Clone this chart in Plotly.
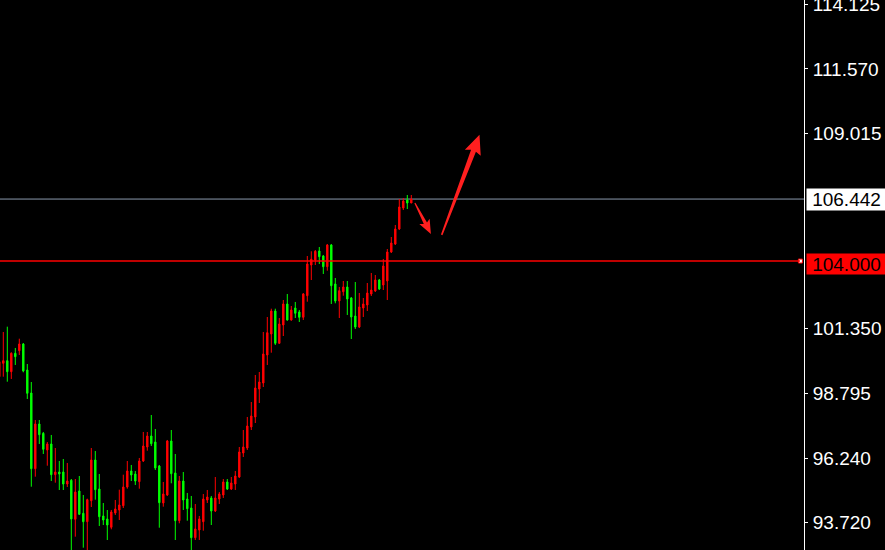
import plotly.graph_objects as go

# ---- candle data ----
OPEN = [99.444, 99.972, 100.074, 99.641, 100.366, 100.468, 100.732, 99.708, 98.802, 95.820,
        97.581, 97.214, 96.557, 96.793, 95.584, 95.690, 95.690, 95.217, 95.363, 93.827,
        94.942, 94.063, 93.732, 94.559, 96.163, 95.020, 93.957, 93.839, 93.512, 94.075,
        94.193, 94.362, 95.099, 95.729, 95.611, 95.308, 96.123, 96.675, 97.108, 96.872,
        95.926, 94.469, 94.784, 96.911, 95.651, 93.772, 95.335, 94.626, 94.272, 93.102,
        93.405, 93.732, 94.587, 94.666, 94.154, 94.626, 94.784, 95.296, 95.020, 95.217,
        95.493, 96.438, 96.635, 97.463, 97.857, 98.959, 99.196, 100.299, 101.126, 102.032,
        100.760, 101.481, 102.308, 101.678, 102.150, 101.993, 101.784, 102.635, 103.844, 104.041,
        104.396, 104.199, 103.777, 104.632, 103.096, 102.426, 102.792, 102.978, 102.544, 101.835,
        101.402, 102.150, 102.268, 102.702, 102.820, 103.253, 103.056, 103.214, 104.356, 104.671,
        105.262, 106.090, 106.405, 106.286]
HIGH = [100.181, 101.205, 101.414, 100.405, 100.575, 100.941, 100.771, 99.944, 99.235, 97.738,
        97.738, 97.266, 96.872, 97.148, 96.635, 96.123, 96.202, 96.045, 95.414, 95.414,
        95.532, 94.784, 94.638, 96.635, 96.517, 95.611, 94.469, 94.193, 94.193, 94.587,
        94.993, 95.584, 96.123, 95.966, 95.729, 96.242, 97.266, 97.266, 97.935, 97.384,
        95.966, 95.296, 96.951, 97.344, 96.399, 95.532, 95.690, 94.863, 94.745, 94.429,
        93.957, 94.823, 94.981, 94.745, 95.493, 94.902, 95.414, 95.414, 95.493, 95.729,
        96.675, 97.344, 97.857, 98.447, 99.511, 99.629, 101.205, 101.796, 102.123, 102.123,
        101.756, 102.465, 102.702, 102.229, 102.387, 102.072, 102.741, 104.199, 104.384, 104.435,
        104.553, 104.238, 104.671, 104.671, 103.332, 102.978, 103.214, 103.214, 102.583, 103.174,
        102.741, 102.544, 103.135, 103.529, 103.450, 103.293, 104.081, 104.474, 104.947, 105.420,
        106.444, 106.483, 106.601, 106.601]
LOW = [99.314, 99.444, 99.247, 99.354, 99.905, 100.299, 99.617, 98.566, 95.111, 95.505,
       96.793, 96.399, 95.938, 95.335, 95.269, 94.981, 94.981, 95.099, 92.420, 93.141,
       93.996, 92.708, 92.539, 94.311, 94.599, 93.563, 93.602, 93.011, 93.433, 93.996,
       93.799, 94.272, 95.032, 95.335, 95.178, 95.032, 96.084, 96.529, 96.714, 95.769,
       93.496, 94.323, 94.745, 95.245, 93.011, 93.669, 94.193, 93.772, 92.539, 93.011,
       93.011, 93.378, 94.469, 93.602, 94.114, 94.429, 94.666, 94.981, 94.981, 94.981,
       95.454, 96.281, 96.557, 97.344, 97.620, 98.408, 99.038, 99.905, 100.389, 100.693,
       100.732, 101.047, 101.650, 101.650, 101.756, 101.599, 101.678, 102.398, 103.253, 103.844,
       103.884, 103.490, 103.620, 102.308, 102.335, 101.756, 102.635, 101.875, 100.929, 101.323,
       101.362, 101.796, 102.032, 102.623, 102.781, 102.859, 102.859, 102.465, 104.317, 104.632,
       105.223, 106.011, 106.050, 106.286]
CLOSE = [100.035, 100.074, 99.641, 100.366, 100.232, 100.732, 99.669, 98.790, 95.820, 97.581,
         97.159, 96.584, 96.793, 95.584, 95.690, 95.611, 95.217, 95.335, 93.839, 94.902,
         94.024, 93.732, 94.599, 96.163, 94.993, 93.929, 93.799, 93.602, 94.114, 94.233,
         94.390, 95.099, 95.729, 95.572, 95.335, 96.123, 96.714, 97.108, 96.805, 95.848,
         94.481, 94.823, 96.911, 95.623, 93.772, 95.335, 94.587, 94.244, 93.102, 93.445,
         93.839, 94.626, 94.705, 94.154, 94.666, 94.823, 95.296, 95.020, 95.257, 95.532,
         96.478, 96.675, 97.502, 97.896, 98.999, 99.235, 100.338, 101.177, 102.032, 100.760,
         101.520, 102.308, 101.678, 102.072, 101.942, 101.784, 102.702, 103.884, 104.069, 104.384,
         104.171, 103.777, 104.632, 103.029, 102.426, 102.832, 102.978, 102.505, 101.796, 101.402,
         102.190, 102.308, 102.741, 102.859, 103.253, 102.899, 103.805, 104.356, 104.711, 105.262,
         106.129, 106.365, 106.286, 106.442]
BARS = list(range(len(OPEN)))

Y_TICKS = [114.125, 111.570, 109.015, 101.350, 98.795, 96.240, 93.720]
Y_TICK_TEXT = ["114.125", "111.570", "109.015", "101.350", "98.795", "96.240", "93.720"]
LAST_PRICE = 106.442
LEVEL = 104.000
LAST_TEXT = "106.442"
LEVEL_TEXT = "104.000"

# hand-drawn arrows: (x_tail, price_tail, x_tip, price_tip)
ARROW_DOWN = (103.9, 106.29, 107.9, 105.07)
ARROW_UP = (110.6, 105.03, 120.05, 108.97)

# ---- layout geometry ----
W, H = 885, 550
MR = 81
X_RANGE = [0.175, 201.175]
Y_RANGE = [92.617, 114.283]
SX = (W - MR) / (X_RANGE[1] - X_RANGE[0])
SY = H / (Y_RANGE[1] - Y_RANGE[0])
FONT = "Liberation Sans"
FSIZE = 19


def arrow_path(a, head_len, head_half, tail_half, neck_half):
    x0, y0, x1, y1 = a
    tx, ty = (x0 - X_RANGE[0]) * SX, (Y_RANGE[1] - y0) * SY
    px, py = (x1 - X_RANGE[0]) * SX, (Y_RANGE[1] - y1) * SY
    dx, dy = px - tx, py - ty
    L = (dx * dx + dy * dy) ** 0.5
    ux, uy = dx / L, dy / L
    nx, ny = -uy, ux
    bx, by = px - ux * head_len, py - uy * head_len
    pts = [
        (tx + nx * tail_half, ty + ny * tail_half),
        (bx + nx * neck_half, by + ny * neck_half),
        (bx + nx * head_half - ux * 2, by + ny * head_half - uy * 2),
        (px, py),
        (bx - nx * head_half - ux * 2, by - ny * head_half - uy * 2),
        (bx - nx * neck_half, by - ny * neck_half),
        (tx - nx * tail_half, ty - ny * tail_half),
    ]
    d = []
    for i, (qx, qy) in enumerate(pts):
        X = qx / SX + X_RANGE[0]
        Y = Y_RANGE[1] - qy / SY
        d.append(("M" if i == 0 else "L") + f"{X:.4f},{Y:.4f}")
    return " ".join(d) + " Z"


fig = go.Figure()
fig.add_trace(go.Candlestick(
    x=BARS, open=OPEN, high=HIGH, low=LOW, close=CLOSE,
    increasing=dict(line=dict(color="#ff0000", width=1), fillcolor="#ff0000"),
    decreasing=dict(line=dict(color="#00ff00", width=1), fillcolor="#00ff00"),
    whiskerwidth=0, hoverinfo="skip", showlegend=False,
))

# small marker at the end of the level line
fig.add_trace(go.Scatter(
    x=[X_RANGE[1] - 0.9], y=[LEVEL], mode="markers",
    marker=dict(symbol="square", size=4, color="white", line=dict(color="#ff0000", width=1)),
    hoverinfo="skip", showlegend=False, cliponaxis=False,
))

shapes = [
    dict(type="line", xref="paper", yref="y", x0=0, x1=1.0, y0=LAST_PRICE, y1=LAST_PRICE,
         line=dict(color="#8a9aae", width=1), layer="below"),
    dict(type="line", xref="paper", yref="y", x0=0, x1=0.995, y0=LEVEL, y1=LEVEL,
         line=dict(color="#ff0000", width=1.5)),
    dict(type="path", xref="x", yref="y", path=arrow_path(ARROW_DOWN, 12, 5.8, 0.6, 1.8),
         fillcolor="#ff1f1f", line=dict(width=0)),
    dict(type="path", xref="x", yref="y", path=arrow_path(ARROW_UP, 17, 8.5, 0.8, 2.6),
         fillcolor="#ff1f1f", line=dict(width=0)),
]

annotations = [
    dict(xref="paper", yref="y", x=1.0, y=LAST_PRICE, xanchor="left", yanchor="middle",
         xshift=2, text=LAST_TEXT, showarrow=False, width=79, height=21, align="center",
         bgcolor="#ffffff", borderpad=0, font=dict(family=FONT, size=FSIZE, color="#000000")),
    dict(xref="paper", yref="y", x=1.0, y=LEVEL, xanchor="left", yanchor="middle",
         xshift=2, yshift=-3, text=LEVEL_TEXT, showarrow=False, width=79, height=20, align="center",
         bgcolor="#ff0000", borderpad=0, font=dict(family=FONT, size=FSIZE, color="#000000")),
]

fig.update_layout(
    width=W, height=H,
    margin=dict(l=0, r=MR, t=0, b=0, autoexpand=False),
    paper_bgcolor="#000000", plot_bgcolor="#000000",
    boxgap=0.5,
    showlegend=False,
    shapes=shapes,
    annotations=annotations,
    xaxis=dict(range=X_RANGE, visible=False, rangeslider=dict(visible=False),
               fixedrange=True, automargin=False),
    yaxis=dict(range=Y_RANGE, side="right", showgrid=False, zeroline=False,
               showline=True, linecolor="#ffffff", linewidth=1, mirror=False,
               ticks="outside", ticklen=3, tickcolor="#ffffff", tickwidth=1,
               tickvals=Y_TICKS, ticktext=Y_TICK_TEXT, ticklabeloverflow="allow",
               ticklabelstandoff=1, automargin=False,
               tickfont=dict(family=FONT, size=FSIZE, color="#ffffff"),
               fixedrange=True),
)

fig.write_html(
    "out.html",
    config={"displayModeBar": False, "staticPlot": True},
    post_script="document.body.style.margin='0';document.body.style.background='#000';",
)
